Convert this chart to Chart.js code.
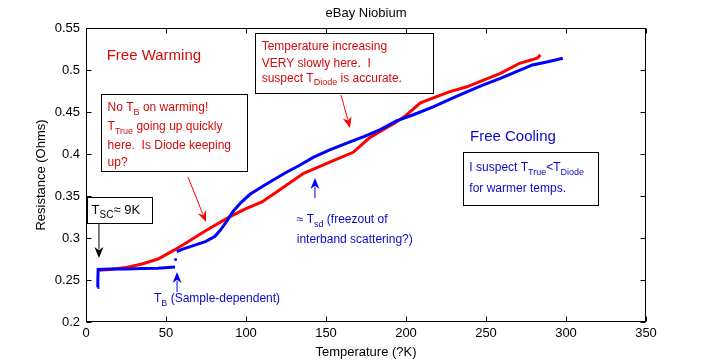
<!DOCTYPE html>
<html>
<head>
<meta charset="utf-8">
<script src="https://cdn.jsdelivr.net/npm/chart.js@4"></script>
<style>
  html, body { margin: 0; padding: 0; background: #fff; }
</style>
</head>
<body>
<canvas id="c" width="712" height="363"></canvas>
<script>
// warming run (red)
const warmT = [7.5, 15, 25, 35, 45, 55, 62, 75, 90, 100, 110, 120, 136, 152, 167, 177, 194, 200, 209, 227, 238, 259, 271, 282, 284];
const warmR = [0.2615, 0.2625, 0.265, 0.269, 0.275, 0.2855, 0.2935, 0.309, 0.3255, 0.335, 0.343, 0.356, 0.377, 0.390, 0.402, 0.419, 0.438, 0.446, 0.461, 0.474, 0.480, 0.496, 0.508, 0.514, 0.518];

// cooling run (blue), null = break in the trace
const coolT = [7.3, 7.4, 7.6, 15, 25, 35, 45, 55.6, 56.1, 56.7, 60, 68, 75, 80.6, 84, 88, 92, 97, 102.5, 110, 117, 125, 133, 142, 152, 163, 174, 184, 194, 205, 217, 228, 238, 248, 259, 269, 279, 288, 298];
const coolR = [0.241, 0.250, 0.2625, 0.263, 0.2632, 0.2636, 0.264, 0.2655, null, 0.2838, 0.2865, 0.2915, 0.296, 0.302, 0.3095, 0.320, 0.332, 0.3425, 0.352, 0.361, 0.369, 0.378, 0.386, 0.396, 0.4045, 0.413, 0.421, 0.429, 0.4395, 0.447, 0.456, 0.4655, 0.474, 0.482, 0.490, 0.498, 0.506, 0.5095, 0.514];

// stray cooling point near T_B
const dotT = [56.0];
const dotR = [0.2745];

const xTicks = [0, 50, 100, 150, 200, 250, 300, 350];
const yTicks = [0.2, 0.25, 0.3, 0.35, 0.4, 0.45, 0.5, 0.55];

const FONT = '"Liberation Sans", Arial, sans-serif';
const RED_TXT = '#d20a0a';
const BLUE_TXT = '#0a0ac8';

const pts = (xs, ys) => xs.map((x, i) => ({ x, y: ys[i] }));

// annotations, placed in data units (T, R)
const notes = [
  { kind: 'text', at: [12.9, 0.5167], size: 15, color: RED_TXT, lines: [[['Free Warming']]] },

  { kind: 'box', from: [9.4, 0.4714], to: [100.6, 0.3798] },
  { kind: 'text', at: [13.5, 0.4548], color: RED_TXT, lines: [[['No T'], ['B', 1], [' on warming!']]] },
  { kind: 'text', at: [13.5, 0.4321], color: RED_TXT, lines: [[['T'], ['True', 1], [' going up quickly']]] },
  { kind: 'text', at: [13.5, 0.4095], color: RED_TXT, lines: [[['here.  Is Diode keeping']]] },
  { kind: 'text', at: [13.5, 0.3893], color: RED_TXT, lines: [[['up?']]] },
  { kind: 'arrow', from: [63.75, 0.3726], to: [75, 0.3190], color: '#ff0000' },

  { kind: 'box', from: [105.6, 0.5440], to: [216.9, 0.4726] },
  { kind: 'text', at: [109.8, 0.5277], color: RED_TXT, lines: [[['Temperature increasing']]] },
  { kind: 'text', at: [109.8, 0.5080], color: RED_TXT, lines: [[['VERY slowly here.  I']]] },
  { kind: 'text', at: [109.8, 0.4901], color: RED_TXT, lines: [[['suspect T'], ['Diode', 1], [' is accurate.']]] },
  { kind: 'arrow', from: [159.4, 0.4702], to: [165, 0.4310], color: '#ff0000' },

  { kind: 'text', at: [240, 0.4202], size: 15, color: BLUE_TXT, lines: [[['Free Cooling']]] },
  { kind: 'box', from: [235.6, 0.4024], to: [320, 0.3393] },
  { kind: 'text', at: [239.6, 0.3833], color: BLUE_TXT, lines: [[['I suspect T'], ['True', 1], ['<T'], ['Diode', 1]]] },
  { kind: 'text', at: [239.6, 0.3583], color: BLUE_TXT, lines: [[['for warmer temps.']]] },

  { kind: 'arrow', from: [143.1, 0.3476], to: [143.1, 0.3714], color: '#0000ff' },
  { kind: 'text', at: [131.7, 0.3214], color: BLUE_TXT, lines: [[['\u2248 T'], ['sd', 1], [' (freezout of']]] },
  { kind: 'text', at: [131.7, 0.2976], color: BLUE_TXT, lines: [[['interband scattering?)']]] },

  { kind: 'box', from: [0.625, 0.3488], to: [41.25, 0.3179] },
  { kind: 'text', at: [3.5, 0.3333], size: 13, color: '#000', lines: [[['T'], ['SC', 1], ['\u2248 9K']]] },
  { kind: 'arrow', from: [8.1, 0.3179], to: [8.1, 0.2762], color: '#000' },

  { kind: 'arrow', from: [56.9, 0.2357], to: [56.9, 0.2595], color: '#0000ff' },
  { kind: 'text', at: [42.5, 0.2274], color: BLUE_TXT, lines: [[['T'], ['B', 1], [' (Sample-dependent)']]] }
];

function drawRich(ctx, x, y, parts, size, color) {
  ctx.fillStyle = color;
  ctx.textBaseline = 'middle';
  ctx.textAlign = 'left';
  let cx = x;
  parts.forEach(([s, sub]) => {
    const fs = sub ? Math.round(size * 0.78) : size;
    ctx.font = fs + 'px ' + FONT;
    ctx.fillText(s, cx, sub ? y + size * 0.38 : y);
    cx += ctx.measureText(s).width;
  });
}

function arrow(ctx, x1, y1, x2, y2, color) {
  const a = Math.atan2(y2 - y1, x2 - x1);
  const len = 11, half = 4.5;
  ctx.strokeStyle = color;
  ctx.fillStyle = color;
  ctx.lineWidth = 1;
  ctx.beginPath();
  ctx.moveTo(x1, y1);
  ctx.lineTo(x2 - Math.cos(a) * len * 0.8, y2 - Math.sin(a) * len * 0.8);
  ctx.stroke();
  ctx.beginPath();
  ctx.moveTo(x2, y2);
  ctx.lineTo(x2 - Math.cos(a) * len - Math.sin(a) * half, y2 - Math.sin(a) * len + Math.cos(a) * half);
  ctx.lineTo(x2 - Math.cos(a) * len * 0.7, y2 - Math.sin(a) * len * 0.7);
  ctx.lineTo(x2 - Math.cos(a) * len + Math.sin(a) * half, y2 - Math.sin(a) * len - Math.cos(a) * half);
  ctx.closePath();
  ctx.fill();
}

const frame = {
  id: 'frame',
  afterDatasetsDraw(chart) {
    const { ctx, chartArea: a, scales: { x, y } } = chart;
    ctx.save();
    ctx.strokeStyle = '#000';
    ctx.lineWidth = 1;
    const L = Math.round(a.left) + 0.5, R = Math.round(a.right) - 0.5;
    const T = Math.round(a.top) + 0.5, B = Math.round(a.bottom) - 0.5;
    ctx.strokeRect(L, T, R - L, B - T);
    ctx.beginPath();
    x.ticks.forEach(t => {
      const p = Math.round(x.getPixelForValue(t.value)) + 0.5;
      ctx.moveTo(p, B); ctx.lineTo(p, B - 5);
      ctx.moveTo(p, T); ctx.lineTo(p, T + 5);
    });
    y.ticks.forEach(t => {
      const p = Math.round(y.getPixelForValue(t.value)) + 0.5;
      ctx.moveTo(L, p); ctx.lineTo(L + 5, p);
      ctx.moveTo(R, p); ctx.lineTo(R - 5, p);
    });
    ctx.stroke();

    // titles
    const mid = (a.left + a.right) / 2;
    ctx.fillStyle = '#000';
    ctx.textAlign = 'center';
    ctx.textBaseline = 'middle';
    ctx.font = '13px ' + FONT;
    ctx.fillText('eBay Niobium', mid, 13);
    ctx.fillText('Temperature (?K)', mid, 352);
    ctx.translate(41, (a.top + a.bottom) / 2);
    ctx.rotate(-Math.PI / 2);
    ctx.fillText('Resistance (Ohms)', 0, 0);
    ctx.restore();
  },
  afterDraw(chart) {
    const { ctx, scales: { x, y } } = chart;
    ctx.save();
    notes.forEach(n => {
      if (n.kind === 'box') {
        const x1 = Math.round(x.getPixelForValue(n.from[0])) + 0.5;
        const y1 = Math.round(y.getPixelForValue(n.from[1])) + 0.5;
        const x2 = Math.round(x.getPixelForValue(n.to[0])) + 0.5;
        const y2 = Math.round(y.getPixelForValue(n.to[1])) + 0.5;
        ctx.fillStyle = '#fff';
        ctx.fillRect(x1, y1, x2 - x1, y2 - y1);
        ctx.strokeStyle = '#000';
        ctx.lineWidth = 1;
        ctx.strokeRect(x1, y1, x2 - x1, y2 - y1);
      } else if (n.kind === 'text') {
        n.lines.forEach(parts => {
          drawRich(ctx, x.getPixelForValue(n.at[0]), y.getPixelForValue(n.at[1]), parts, n.size || 12, n.color);
        });
      } else if (n.kind === 'arrow') {
        arrow(ctx,
          x.getPixelForValue(n.from[0]), y.getPixelForValue(n.from[1]),
          x.getPixelForValue(n.to[0]), y.getPixelForValue(n.to[1]), n.color);
      }
    });
    ctx.restore();
  }
};

new Chart(document.getElementById('c'), {
  type: 'scatter',
  data: {
    datasets: [
      {
        label: 'Cooling',
        data: pts(coolT, coolR),
        showLine: true,
        spanGaps: false,
        borderColor: '#0000ff',
        borderWidth: 3,
        pointRadius: 0,
        tension: 0
      },
      {
        label: 'Cooling point',
        data: pts(dotT, dotR),
        pointRadius: 1.5,
        pointBackgroundColor: '#0000ff',
        pointBorderWidth: 0
      },
      {
        label: 'Warming',
        data: pts(warmT, warmR),
        showLine: true,
        borderColor: '#ff0000',
        borderWidth: 3,
        pointRadius: 0,
        tension: 0
      }
    ]
  },
  options: {
    responsive: false,
    animation: false,
    layout: { padding: { left: 0, right: 66, top: 28, bottom: 0 } },
    plugins: { legend: { display: false }, title: { display: false }, tooltip: { enabled: false } },
    scales: {
      x: {
        type: 'linear',
        min: 0,
        max: 350,
        afterBuildTicks: s => { s.ticks = xTicks.map(v => ({ value: v })); },
        afterFit: s => { s.height = 41; },
        grid: { display: false, drawTicks: false },
        border: { display: false },
        ticks: { color: '#000', padding: 4, maxRotation: 0, font: { family: FONT, size: 13 } }
      },
      y: {
        type: 'linear',
        min: 0.2,
        max: 0.55,
        afterBuildTicks: s => { s.ticks = yTicks.map(v => ({ value: v })); },
        afterFit: s => { s.width = 86; },
        grid: { display: false, drawTicks: false },
        border: { display: false },
        ticks: {
          color: '#000',
          padding: 6,
          font: { family: FONT, size: 13 },
          callback: v => String(+v.toFixed(2))
        }
      }
    }
  },
  plugins: [frame]
});
</script>
</body>
</html>
